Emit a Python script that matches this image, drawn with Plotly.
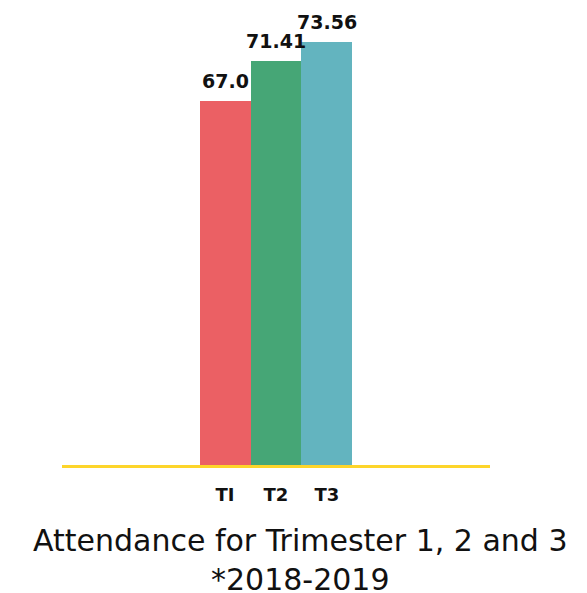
import plotly.graph_objects as go

terms = ["T1", "T2", "T3"]
tick_labels = ["TI", "T2", "T3"]
attendance = [67.0, 71.41, 73.56]
bar_colors = ["#EB6064", "#46A676", "#63B4BF"]

TITLE_FONT = "DejaVu Sans"
LABEL_FONT = "DejaVu Sans"
INK = "#111111"

fig = go.Figure()
fig.add_bar(
    x=terms,
    y=attendance,
    marker={"color": bar_colors, "line": {"width": 0}},
    width=1.0,
    hoverinfo="x+y",
)

# value labels above the bars (annotations so they are not squeezed to bar width)
for term, value in zip(terms, attendance):
    fig.add_annotation(
        x=term, y=value, text=str(value),
        xanchor="center", yanchor="bottom", yshift=7, showarrow=False,
        font={"family": LABEL_FONT, "size": 19, "color": INK, "weight": "bold"},
    )

fig.add_annotation(
    text="Attendance for Trimester 1, 2 and 3",
    xref="paper", yref="paper", x=0.558, y=-0.167,
    xanchor="center", yanchor="middle", showarrow=False,
    font={"family": TITLE_FONT, "size": 30, "color": INK},
)
fig.add_annotation(
    text="*2018-2019",
    xref="paper", yref="paper", x=0.558, y=-0.252,
    xanchor="center", yanchor="middle", showarrow=False,
    font={"family": TITLE_FONT, "size": 30, "color": INK},
)

fig.update_layout(
    width=587,
    height=593,
    margin={"l": 54, "r": 105, "t": 2, "b": 136},
    paper_bgcolor="white",
    plot_bgcolor="white",
    showlegend=False,
    bargap=0,
)
fig.update_xaxes(
    type="category",
    tickvals=terms,
    ticktext=tick_labels,
    range=[-3.2, 5.2],
    showline=True,
    linecolor="#FDD52A",
    linewidth=3,
    showgrid=False,
    zeroline=False,
    ticks="",
    ticklabelstandoff=11,
    tickfont={"family": LABEL_FONT, "size": 18, "color": INK, "weight": "bold"},
)
fig.update_yaxes(
    range=[26.8, 77.1],
    visible=False,
    showgrid=False,
    zeroline=False,
)

fig.write_html("out.html")
